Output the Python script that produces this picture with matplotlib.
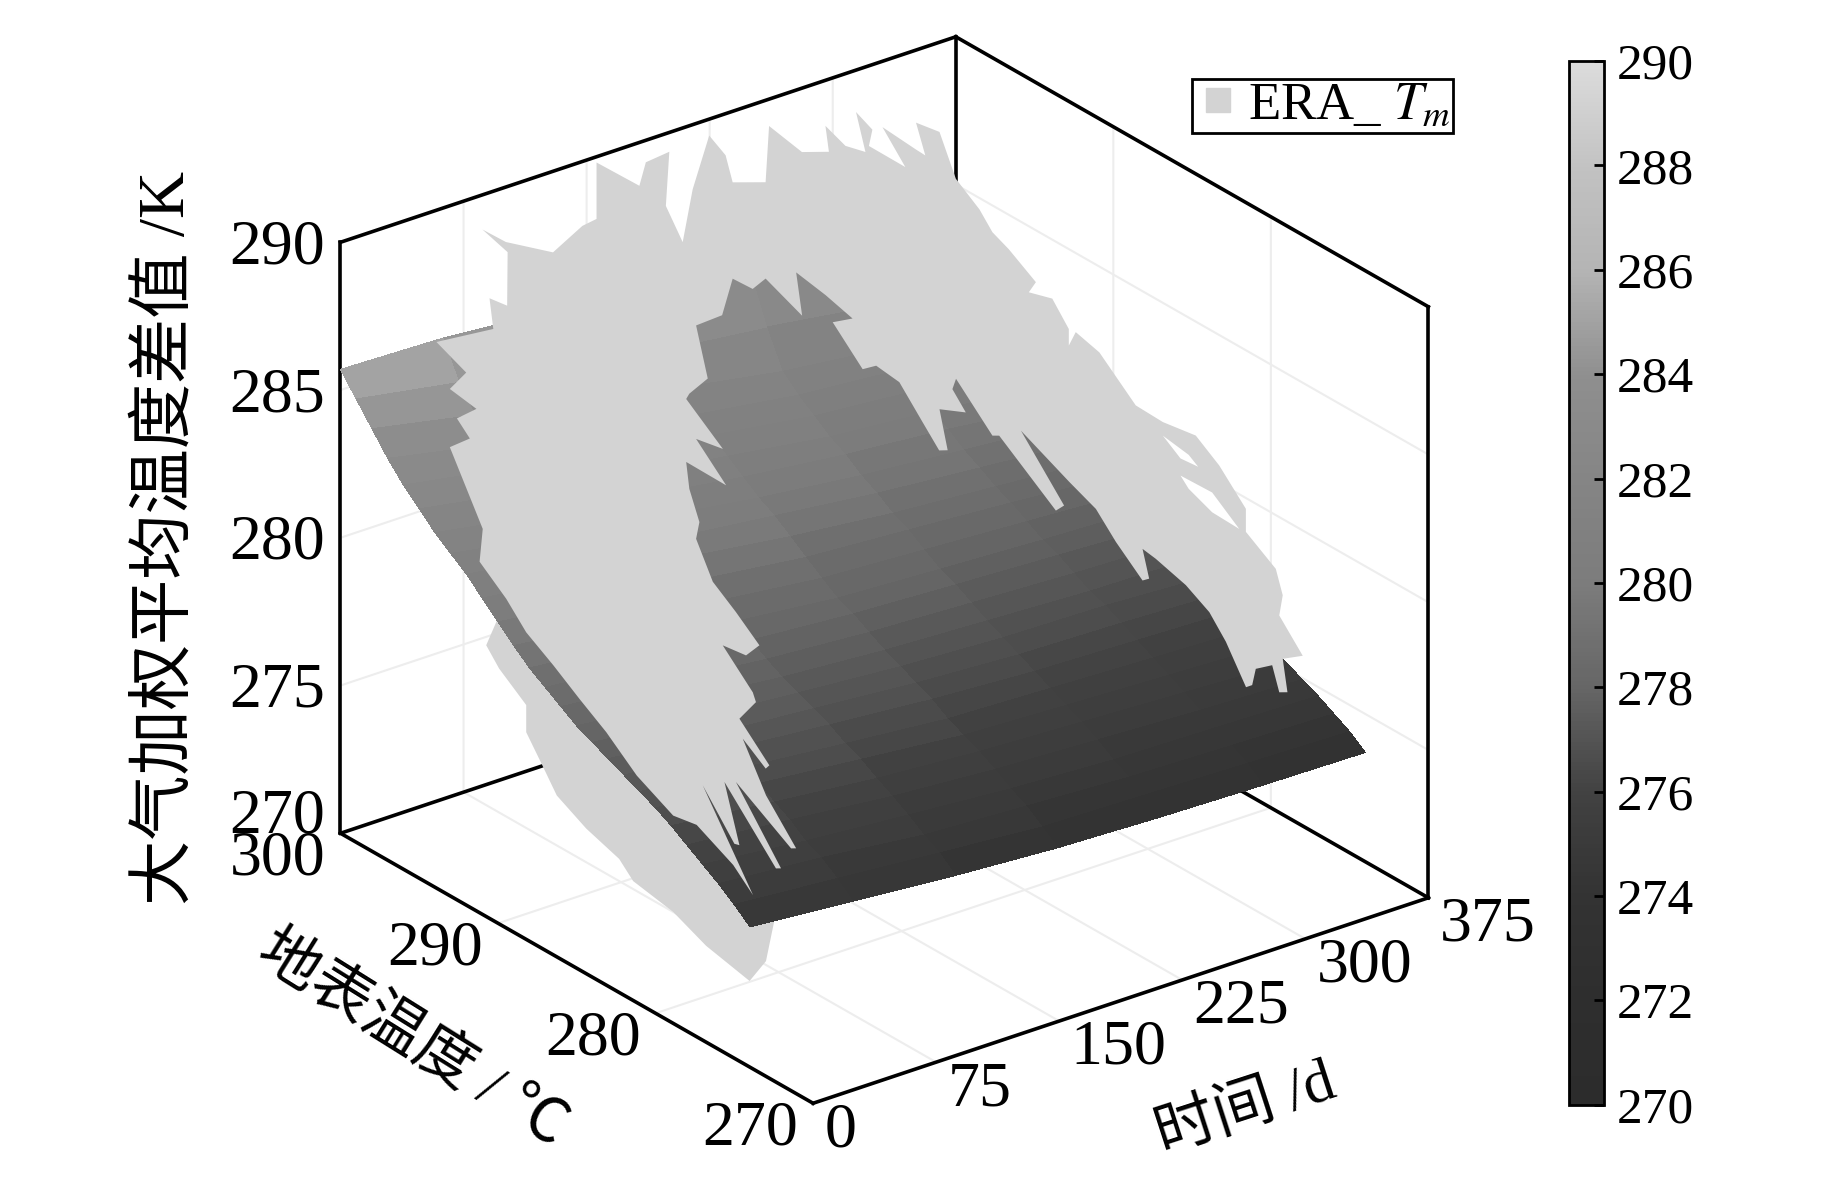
import numpy as np
import matplotlib
matplotlib.use("Agg")
import matplotlib.pyplot as plt
from matplotlib.colors import LinearSegmentedColormap
from matplotlib.lines import Line2D
from mpl_toolkits.mplot3d.art3d import Poly3DCollection

plt.rcParams['font.family'] = ['Liberation Serif', 'Noto Sans CJK SC']
plt.rcParams['mathtext.fontset'] = 'stix'
plt.rcParams['grid.color'] = '#ededed'
plt.rcParams['grid.linewidth'] = 1.5

# fitted surface, Tm against time (columns) and surface temperature (rows)
grid_time = [0, 62.5, 125, 187.5, 250, 312.5, 375]
grid_ts = list(range(274, 301))
grid_tm = [
    [274.75, 274.46, 274.17, 273.95, 273.83, 273.75, 273.7],
    [275.2, 274.92, 274.63, 274.35, 274.27, 274.18, 274.1],
    [275.6, 275.32, 274.93, 274.75, 274.57, 274.48, 274.4],
    [275.95, 275.58, 275.3, 275.03, 274.85, 274.78, 274.7],
    [276.3, 275.99, 275.63, 275.38, 275.22, 275.06, 274.95],
    [276.65, 276.29, 275.93, 275.68, 275.52, 275.36, 275.2],
    [276.95, 276.61, 276.27, 275.93, 275.78, 275.64, 275.5],
    [277.2, 276.83, 276.5, 276.18, 276.05, 275.92, 275.8],
    [277.45, 277.14, 276.83, 276.53, 276.32, 276.21, 276.1],
    [277.7, 277.36, 277.07, 276.78, 276.58, 276.49, 276.35],
    [277.95, 277.58, 277.3, 277.03, 276.85, 276.78, 276.6],
    [278.2, 277.89, 277.53, 277.28, 277.12, 276.96, 276.9],
    [278.55, 278.19, 277.83, 277.58, 277.42, 277.26, 277.15],
    [278.9, 278.53, 278.17, 277.9, 277.73, 277.57, 277.4],
    [279.25, 278.88, 278.5, 278.13, 277.95, 277.78, 277.65],
    [279.7, 279.3, 278.9, 278.5, 278.3, 278.1, 277.9],
    [280.2, 279.77, 279.33, 278.9, 278.67, 278.43, 278.15],
    [280.7, 280.23, 279.77, 279.3, 278.93, 278.67, 278.4],
    [281.2, 280.7, 280.1, 279.7, 279.3, 279.0, 278.7],
    [281.6, 281.0, 280.5, 280.0, 279.6, 279.3, 279.0],
    [282.0, 281.4, 280.9, 280.4, 280.0, 279.7, 279.3],
    [282.5, 281.9, 281.3, 280.8, 280.3, 280.0, 279.6],
    [283.0, 282.4, 281.7, 281.2, 280.7, 280.4, 279.9],
    [283.6, 282.9, 282.3, 281.6, 281.1, 280.8, 280.25],
    [284.3, 283.6, 282.9, 282.2, 281.6, 281.2, 280.6],
    [285.0, 284.4, 283.8, 283.2, 282.8, 282.3, 281.4],
    [285.7, 285.6, 285.3, 285.0, 284.3, 283.4, 282.0],
]

# ERA Tm cloud outline, one segment per day of year
seg_time = [0, 60, 150, 225, 280, 340, 225, 150]
seg_ts = [
    [273.81, 275.07, 277.39, 278.88, 281.19, 283.13, 284.81, 286.49, 288.21, 289.48,
     291.17, 290.97, 293.06, 291.79, 292.61, 291.37, 293.06, 292.02, 293.91, 290.30],
    [296.79, 295.67, 295.64, 297.24, 295.75, 292.76],
    [300.27, 299.37, 299.37, 296.65, 296.24, 294.75, 294.97, 293.9],
    [301.08, 300.03, 298.99, 298.54, 296.45, 296.23],
    [299.87, 298.16, 298.38, 297.11, 295.84, 296.44, 295.40, 295.62, 293.31, 294.76,
     292.63, 292.04, 292.63, 291.14, 290.10, 288.60, 287.78, 286.74, 285.02, 285.47,
     283.98, 282.93, 282.93, 282.49, 280.99, 278.68, 276.96, 274.87, 273.38, 271.69,
     271.69],
    [276.04, 275.6, 275.82, 274.33, 275.6, 275.3, 275.82, 276.27, 277.31, 277.54,
     277.93, 279.21, 280.26, 281.75, 283.66, 284.5, 284.08, 284.5, 286.19, 287.46,
     289.15, 292.22, 289.48, 290.0, 293.6, 294.03, 296.34, 296.57, 295.72, 297.39,
     296.87, 297.41, 298.47],
    [287.96, 289.43, 290.29, 292.19, 290.93, 292.64, 294.51, 294.13, 296.45, 297.27,
     298.54, 299.21],
    [293.05, 292.31, 293.48, 293.68, 291.35, 293.05, 291.14, 293.68, 293.48, 292.84,
     293.05, 291.99, 290.52, 289.03, 289.88, 291.36, 289.45, 289.25, 290.3, 288.4,
     288.63, 290.09, 288.61, 286.7, 287.02, 290.52, 287.66, 287.98, 291.25, 290.3,
     290.62, 292.63],
]
seg_tm = [
    [275.88, 276.52, 277.17, 277.03, 277.68, 278.56, 279.16, 279.80, 280.39, 281.14,
     281.88, 283.05, 285.18, 285.86, 286.29, 286.99, 287.15, 288.02, 288.48, 290.02],
    [287.97, 288.06, 289.88, 290.16, 290.19, 290.75],
    [287.69, 288.2, 290.11, 290.15, 291.07, 291.88, 289.98, 289.08],
    [287.29, 289.43, 289.08, 288.30, 288.94, 290.91],
    [287.90, 288.43, 289.24, 288.95, 289.13, 290.30, 290.02, 289.40, 289.39, 290.30,
     290.19, 290.17, 291.10, 291.24, 289.97, 289.39, 288.87, 288.61, 288.02, 287.54,
     287.78, 287.07, 286.51, 287.10, 286.87, 285.78, 285.74, 285.92, 285.36, 284.41,
     283.63],
    [279.94, 279.18, 278.43, 277.52, 277.03, 275.99, 275.83, 276.61, 276.17, 275.55,
     275.36, 276.51, 277.19, 277.65, 277.96, 278.04, 277.16, 276.97, 277.76, 278.49,
     278.89, 279.69, 277.99, 277.66, 279.10, 278.97, 280.19, 279.77, 279.24, 278.84,
     277.61, 277.44, 278.08],
    [284.76, 284.87, 284.49, 285.5, 286.01, 286.28, 286.48, 285.13, 285.68, 285.08,
     285.04, 283.60],
    [286.52, 284.95, 284.08, 283.84, 282.86, 282.68, 281.69, 281.71, 280.86, 279.93,
     279.30, 278.17, 277.59, 276.92, 276.32, 276.21, 275.20, 274.93, 274.05, 273.05,
     272.87, 273.44, 271.97, 270.76, 270.66, 271.84, 269.79, 269.69, 271.62, 269.77,
     269.72, 271.09],
]

# part of the cloud that sits behind the surface
lobe_ts = [290.75, 289.93, 288.21, 288.21, 287.16, 286.27, 284.4, 282.31, 281.42, 278.88,
           276.79, 274.03, 272.99, 272.39, 276.87, 284.33, 288.81]
lobe_tm = [279.18, 278.64, 277.93, 277.01, 276.18, 275.46, 274.91, 274.52, 274.04, 273.77,
           273.26, 272.91, 273.90, 275.63, 278.64, 281.54, 282.16]

# two gaps in the cloud near its right edge, day 280
gap1_ts = [276.96, 275.32, 274.72, 275.84]
gap1_tm = [285.28, 285.13, 284.91, 284.85]
gap2_ts = [275.84, 273.83, 272.11, 273.83, 275.32]
gap2_tm = [284.27, 284.31, 283.60, 283.64, 283.98]

time_ticks = [0, 75, 150, 225, 300, 375]
ts_ticks = [270, 280, 290, 300]
tm_ticks = [270, 275, 280, 285, 290]
cbar_ticks = list(range(270, 291, 2))
cbar_colors = ['#2c2c2c', '#2e2e2e', '#333333', '#424242', '#666666', '#7c7c7c',
               '#858585', '#8f8f8f', '#b4b4b4', '#c2c2c2', '#dcdcdc']
cloud_color = '#d3d3d3'

cmap = LinearSegmentedColormap.from_list('gray_tm', cbar_colors)
norm = plt.Normalize(270, 290)

fig = plt.figure(figsize=(18.43, 11.81), dpi=100)
ax = fig.add_axes([0.1915, 0.0673, 0.5616, 0.8764], projection='3d', computed_zorder=False)
ax.set_proj_type('ortho')
ax.view_init(elev=25.9, azim=-127.4)
ax.set_box_aspect((659, 662, 559), zoom=1.2)
ax.set_xlim(0, 375, view_margin=0)
ax.set_ylim(270, 300, view_margin=0)
ax.set_zlim(270, 290, view_margin=0)

for axis in (ax.xaxis, ax.yaxis, ax.zaxis):
    axis.set_pane_color((1, 1, 1, 1))
    axis.pane.set_edgecolor((1, 1, 1, 0))
    axis.line.set_color((0, 0, 0, 0))
    axis._axinfo['tick']['inward_factor'] = 0
    axis._axinfo['tick']['outward_factor'] = 0

ax.set_xticks(time_ticks)
ax.set_xticklabels([str(v) for v in time_ticks], ha='left', va='center_baseline')
ax.set_yticks(ts_ticks)
ax.set_yticklabels([str(v) for v in ts_ticks], ha='right', va='center_baseline')
ax.set_zticks(tm_ticks)
ax.set_zticklabels([str(v) for v in tm_ticks], ha='right', va='center_baseline')
ax.get_zticklabels()[0].set_va('baseline')
ax.tick_params(axis='both', labelsize=46)
ax.tick_params(axis='x', pad=1.4)
ax.tick_params(axis='y', pad=1.4)
ax.tick_params(axis='z', pad=-2.6)

# black frame of the box
t0, t1 = time_ticks[0], time_ticks[-1]
s0, s1 = ts_ticks[0], ts_ticks[-1]
m0, m1 = tm_ticks[0], tm_ticks[-1]
box_edges = [
    ([t0, t1], [s0, s0], [m0, m0]), ([t0, t0], [s0, s1], [m0, m0]),
    ([t0, t0], [s1, s1], [m0, m1]), ([t1, t1], [s0, s0], [m0, m1]),
    ([t0, t1], [s1, s1], [m1, m1]), ([t1, t1], [s0, s1], [m1, m1]),
    ([t1, t1], [s1, s1], [m0, m1]), ([t0, t1], [s1, s1], [m0, m0]),
    ([t1, t1], [s0, s1], [m0, m0]),
]
for ex, ey, ez in box_edges:
    ax.plot(ex, ey, ez, color='black', linewidth=2.6, zorder=0.5, clip_on=False,
            solid_capstyle='projecting')

X, Y = np.meshgrid(grid_time, grid_ts)
Z = np.array(grid_tm)

lobe = Poly3DCollection([list(zip([0] * len(lobe_ts), lobe_ts, lobe_tm))],
                        facecolor=cloud_color, edgecolor='none', zorder=1, clip_on=False)
ax.add_collection3d(lobe)

surf = ax.plot_surface(X, Y, Z, facecolors=cmap(norm(Z)), rstride=1, cstride=1, shade=False,
                       linewidth=0, antialiased=False, zorder=2)
surf.set_clip_on(False)

cloud_pts = []
for t, ts, tm in zip(seg_time, seg_ts, seg_tm):
    cloud_pts += list(zip([t] * len(ts), ts, tm))
cloud = Poly3DCollection([cloud_pts], facecolor=cloud_color, edgecolor='none', zorder=3, clip_on=False)
ax.add_collection3d(cloud)

for gap_ts, gap_tm in [(gap1_ts, gap1_tm), (gap2_ts, gap2_tm)]:
    gap = Poly3DCollection([list(zip([280] * len(gap_ts), gap_ts, gap_tm))],
                           facecolor='white', edgecolor='none', zorder=4)
    ax.add_collection3d(gap)

# axis titles
fig.text(142 / 1568, 1 - 458 / 1005, '大气加权平均温度差值 /K', rotation=90, fontsize=47,
         ha='center', va='center')
fig.text(350 / 1568, 1 - 885 / 1005, '地表温度 / ℃', rotation=-32, fontsize=44,
         ha='center', va='center', rotation_mode='anchor')
fig.text(1060 / 1568, 1 - 945 / 1005, '时间 /d', rotation=18, fontsize=44,
         ha='center', va='center', rotation_mode='anchor')

handle = Line2D([], [], linestyle='none', marker='s', markersize=17, color=cloud_color)
leg = fig.legend([handle], [r'ERA_ $T_m$'], loc='center', fontsize=38, frameon=True, fancybox=False,
                 edgecolor='black', framealpha=1, bbox_to_anchor=(1125 / 1568, 1 - 90 / 1005),
                 handletextpad=0.1, borderpad=0.06, handlelength=0.9)
leg.get_frame().set_linewidth(2)

cax = fig.add_axes([1335 / 1568, 1 - 940 / 1005, 30 / 1568, 888 / 1005])
sm = plt.cm.ScalarMappable(norm=norm, cmap=cmap)
cb = fig.colorbar(sm, cax=cax, ticks=cbar_ticks)
cb.ax.tick_params(direction='in', length=7, width=2, labelsize=37, pad=9)
cb.outline.set_linewidth(2)

fig.savefig('out.png', dpi=100)
